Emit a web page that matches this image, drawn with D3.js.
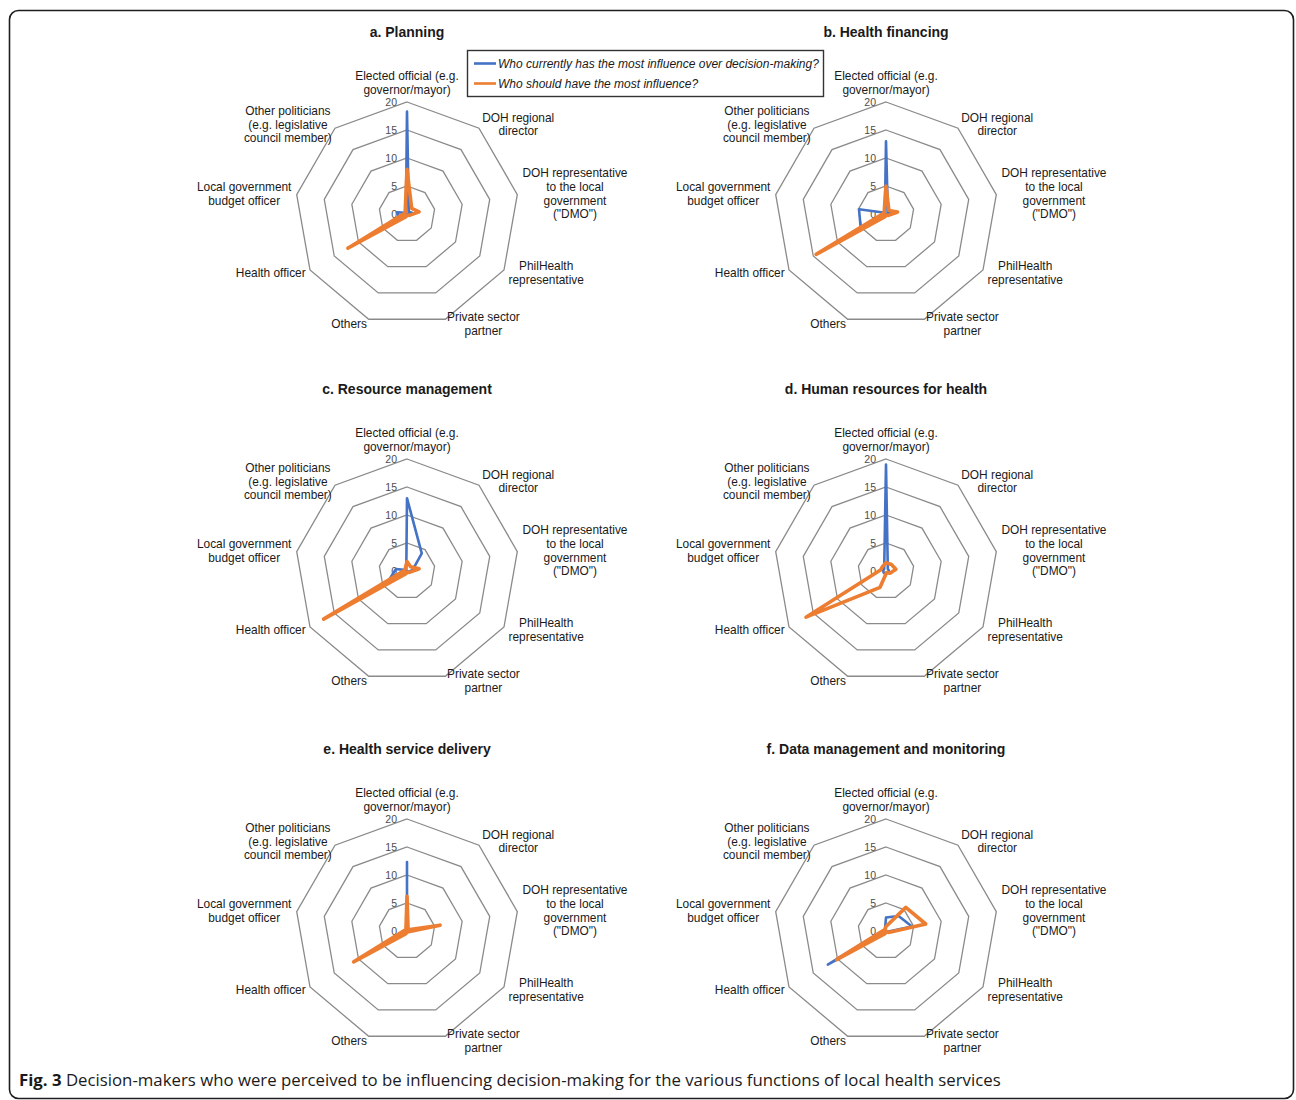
<!DOCTYPE html>
<html>
<head>
<meta charset="utf-8">
<script src="https://cdn.jsdelivr.net/npm/d3@7"></script>
<style>
body { margin:0; background:#fff; }
svg text { font-family: "Liberation Sans", Arial, sans-serif; }
</style>
</head>
<body>
<div id="chart"></div>
<script>
// axis labels, clockwise from the top, one entry per line
var categories = [
	["Elected official (e.g.", "governor/mayor)"],
	["DOH regional", "director"],
	["DOH representative", "to the local", "government", "(\"DMO\")"],
	["PhilHealth", "representative"],
	["Private sector", "partner"],
	["Others"],
	["Health officer"],
	["Local government", "budget officer"],
	["Other politicians", "(e.g. legislative", "council member)"]
]
var ticks = [0, 5, 10, 15, 20]
var panelTitles = ["a. Planning", "b. Health financing", "c. Resource management",
	"d. Human resources for health", "e. Health service delivery", "f. Data management and monitoring"]
var seriesNames = ["Who currently has the most influence over decision-making?", "Who should have the most influence?"]

// who currently has the most influence (blue)
var currentA = [18.3, 0.5, 1, 0.3, 0, 0.3, 1.5, 1.8, 0.3]
var currentB = [13, 0.5, 0.8, 0.2, 0, 0.3, 5.2, 4.9, 0.3]
var currentC = [13, 4.1, 1, 0.3, 0, 0.5, 4, 2, 0.2]
var currentD = [19, 0.5, 0.5, 0.5, 0.3, 0.5, 0.5, 0.5, 0.5]
var currentE = [12.3, 0, 0.3, 0, 0, 0, 10.5, 0.3, 0]
var currentF = [2.4, 3.5, 4.7, 0.3, 0, 0.3, 12, 0.5, 0.3]
// who should have the most influence (orange)
var shouldA = [8, 1.3, 2.2, 0.5, 0.2, 0.5, 12.2, 0.5, 0.5]
var shouldB = [5, 0.8, 2.1, 0.5, 0.2, 0.5, 14.4, 0.5, 0.5]
var shouldC = [1.7, 1, 2.2, 0.5, 0.2, 0.5, 17.2, 0.5, 0.5]
var shouldD = [1.5, 1.5, 1.8, 0.8, 0.3, 3.1, 16.5, 1, 1]
var shouldE = [6.2, 0.3, 6, 0.3, 0, 0.5, 11, 0.5, 0.3]
var shouldF = [0.8, 5.5, 7.2, 0.5, 0, 0.5, 10.2, 0.5, 0.3]

var currents = [currentA, currentB, currentC, currentD, currentE, currentF]
var shoulds = [shouldA, shouldB, shouldC, shouldD, shouldE, shouldF]

var blue = "#4472C4", orange = "#ED7D31", gridColor = "#8a8a8a"
var width = 1296, height = 1100
var R = 112
var step = 2 * Math.PI / categories.length
var colX = [407, 886], rowY = [214, 571, 931]

var svg = d3.select("#chart").append("svg").attr("width", width).attr("height", height)

// frame round the figure
svg.append("rect")
	.attr("x", 9.5).attr("y", 10.5)
	.attr("width", 1284).attr("height", 1088)
	.attr("rx", 9).attr("ry", 9)
	.attr("fill", "none").attr("stroke", "#1e1e1e").attr("stroke-width", 1.6)

var r = d3.scaleLinear().domain([0, 20]).range([0, R])

function drawPanel(k) {
	var cx = colX[k % 2], cy = rowY[Math.floor(k / 2)]
	var g = svg.append("g").attr("transform", "translate(" + cx + "," + cy + ")")

	g.append("text")
		.attr("x", 0).attr("y", -177)
		.attr("text-anchor", "middle")
		.style("font-size", "14px").style("font-weight", "bold").attr("fill", "#1a1a1a")
		.text(panelTitles[k])

	// grid rings
	ticks.filter(function(t) { return t > 0 }).forEach(function(t) {
		var ring = d3.lineRadial()
			.angle(function(d, i) { return i * step })
			.radius(r(t))
			.curve(d3.curveLinearClosed)
		g.append("path")
			.attr("d", ring(categories))
			.attr("fill", "none").attr("stroke", gridColor).attr("stroke-width", 1.3)
	})

	// tick labels
	g.selectAll(".tick").data(ticks).enter().append("text")
		.attr("x", -10).attr("y", function(d) { return -r(d) })
		.attr("dy", "0.35em").attr("text-anchor", "end")
		.style("font-size", "10.5px").attr("fill", "#4d4d4d")
		.text(function(d) { return d })

	// series
	var line = d3.lineRadial()
		.angle(function(d, i) { return i * step })
		.radius(function(d) { return r(d) })
		.curve(d3.curveLinearClosed)
	g.append("path").attr("d", line(currents[k]))
		.attr("fill", "none").attr("stroke", blue).attr("stroke-width", 2.6).attr("stroke-linejoin", "round")
	g.append("path").attr("d", line(shoulds[k]))
		.attr("fill", "none").attr("stroke", orange).attr("stroke-width", 3.6).attr("stroke-linejoin", "round")

	// category labels outside the outer ring
	var lh = 13.7
	categories.forEach(function(lines, i) {
		var a = i * step
		var s = Math.sin(a), c = Math.cos(a)
		var px = (R + 5) * s, py = -(R + 5) * c
		var t = g.append("text").style("font-size", "11.9px").attr("fill", "#1a1a1a").attr("text-anchor", "middle")
		var n = lines.length
		var firstY
		if (Math.abs(s) < 0.01) firstY = py - (n - 1) * lh - 7
		else firstY = py - (n - 1) * lh / 2
		lines.forEach(function(l, j) {
			t.append("tspan").attr("x", 0).attr("y", firstY + j * lh).attr("dy", "0.35em").text(l)
		})
		var w = t.node().getBBox().width
		var boxCx = px
		if (s > 0.01) boxCx = px + w / 2
		if (s < -0.01) boxCx = px - w / 2
		t.selectAll("tspan").attr("x", boxCx)
	})
}

for (var k = 0; k < 6; k++) drawPanel(k)

// legend
var lg = svg.append("g")
lg.append("rect").attr("x", 467.5).attr("y", 50.5).attr("width", 356).attr("height", 46)
	.attr("fill", "#fff").attr("stroke", "#333").attr("stroke-width", 1.4)
var legendColors = [blue, orange]
seriesNames.forEach(function(name, i) {
	var y = 63.5 + i * 20
	lg.append("line").attr("x1", 474).attr("x2", 496).attr("y1", y).attr("y2", y)
		.attr("stroke", legendColors[i]).attr("stroke-width", 2.6)
	lg.append("text").attr("x", 498).attr("y", y).attr("dy", "0.35em")
		.style("font-size", "12px").style("font-style", "italic").attr("fill", "#1a1a1a")
		.text(name)
})

// caption
var cap = svg.append("text").attr("x", 19).attr("y", 1086)
	.style("font-family", "'Open Sans', sans-serif").style("font-size", "16.8px").attr("fill", "#1a1a1a")
cap.append("tspan").style("font-weight", "bold").text("Fig. 3")
cap.append("tspan").text(" Decision-makers who were perceived to be influencing decision-making for the various functions of local health services")
</script>
</body>
</html>
